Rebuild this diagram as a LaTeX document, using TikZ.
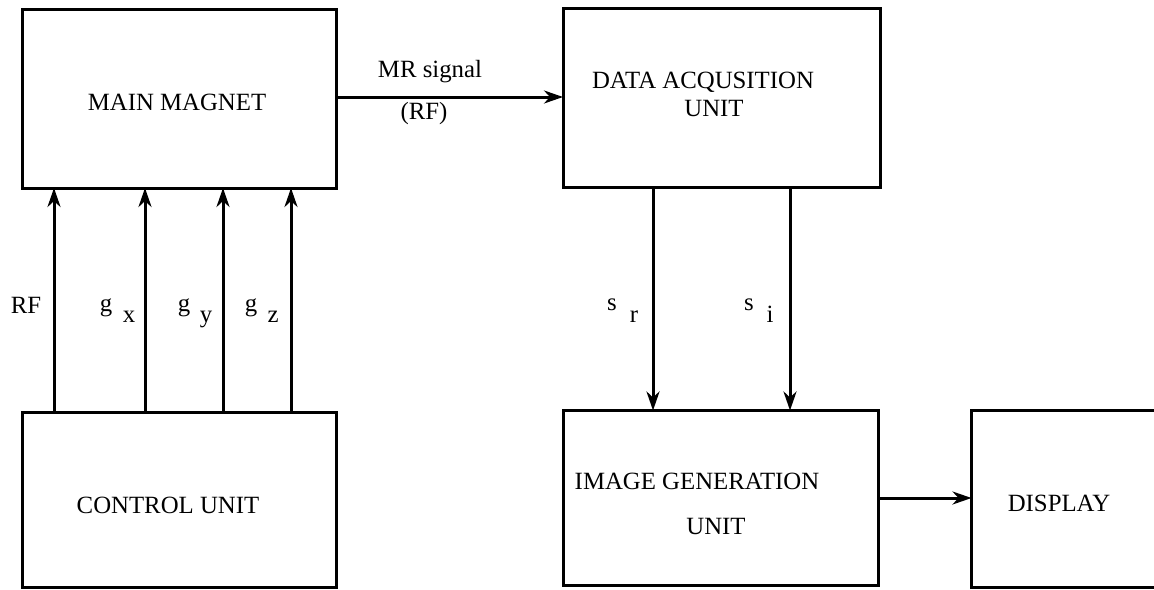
\documentclass[tikz,border=0pt]{standalone}
\usepackage{fontspec}
\setmainfont{Liberation Serif}
\usetikzlibrary{arrows.meta}
\begin{document}
\begin{tikzpicture}[x=0.5pt,y=-0.5pt,
  box/.style={draw, line width=1.5pt, inner sep=0pt, outer sep=0pt},
  lbl/.style={inner sep=0pt, anchor=base, font=\fontsize{12.4}{14}\selectfont},
  conn/.style={line width=1.5pt, -{Stealth[length=9.5pt,width=6.5pt,inset=3pt]}}]
\clip (0,0) rectangle (1154,589);
\fill[white] (0,0) rectangle (1154,589);
% boxes
\node[box, minimum width=157pt, minimum height=89.5pt] (mm) at (179,98.5) {};
\node[box, minimum width=158.5pt, minimum height=89.5pt] (da) at (721.5,97.5) {};
\node[box, minimum width=157pt, minimum height=87.5pt] (cu) at (179,499.5) {};
\node[box, minimum width=157.5pt, minimum height=87.5pt] (ig) at (720.5,498) {};
\node[box, minimum width=97pt, minimum height=88.5pt] (dp) at (1068.5,498.5) {};
% box texts
\node[lbl] (tmm) at (177,110) {MAIN MAGNET};
\node[lbl] (tda1) at (703,88) {DATA ACQUSITION};
\node[lbl] (tda2) at (714,116) {UNIT};
\node[lbl] (tcu) at (168,513) {CONTROL UNIT};
\node[lbl] (tig1) at (697,489) {IMAGE GENERATION};
\node[lbl] (tig2) at (716,534) {UNIT};
\node[lbl] (tdp) at (1059,511) {DISPLAY};
% connectors
\draw[conn] (mm.east |- 0,97) -- (da.west |- 0,97);
\node[lbl] (mrs) at (430,77) {MR signal};
\node[lbl] (mrf) at (424,119) {(RF)};
\foreach \x in {54,145,223,291}{
  \draw[conn] (cu.north -| \x,0) -- (mm.south -| \x,0);
}
\node[lbl] (rf) at (26,313) {RF};
\node[lbl] (gx) at (106,311) {g};
\node[lbl] (gxs) at (129,322) {x};
\node[lbl] (gy) at (184,311) {g};
\node[lbl] (gys) at (206,322) {y};
\node[lbl] (gz) at (251,311) {g};
\node[lbl] (gzs) at (273,322) {z};
\draw[conn] (da.south -| 653,0) -- (ig.north -| 653,0);
\draw[conn] (da.south -| 790,0) -- (ig.north -| 790,0);
\node[lbl] (sr) at (612,310) {s};
\node[lbl] (srs) at (634,322) {r};
\node[lbl] (si) at (749,310) {s};
\node[lbl] (sis) at (770,322) {i};
\draw[conn] (ig.east |- 0,498) -- (dp.west |- 0,498);
\end{tikzpicture}
\end{document}
